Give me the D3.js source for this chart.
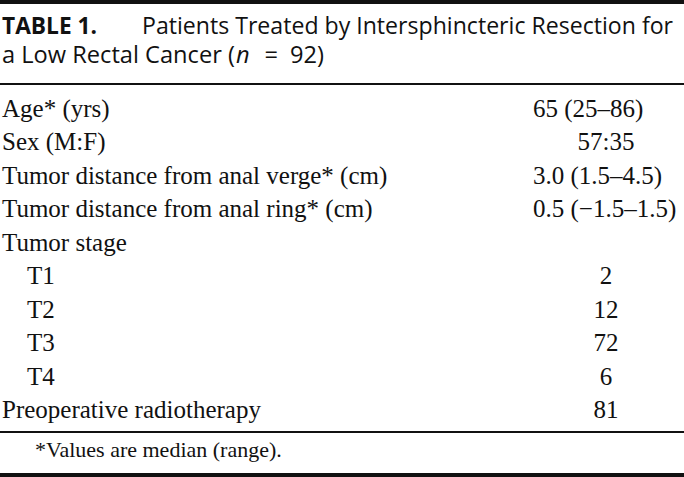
<!DOCTYPE html>
<html>
<head>
<meta charset="utf-8">
<script src="https://cdn.jsdelivr.net/npm/d3@7/dist/d3.min.js"></script>
<style>
  html, body { margin: 0; padding: 0; background: #fff; }
  svg { display: block; }
</style>
</head>
<body>
<div id="table"></div>
<script>
// table content
var titleTag = "TABLE 1.";
var titleLine1 = "Patients Treated by Intersphincteric Resection for";
var titleLine2 = ["a Low Rectal Cancer (", "n", "=", "92)"];

var rowLabels = [
	"Age* (yrs)",
	"Sex (M:F)",
	"Tumor distance from anal verge* (cm)",
	"Tumor distance from anal ring* (cm)",
	"Tumor stage",
	"T1",
	"T2",
	"T3",
	"T4",
	"Preoperative radiotherapy"
];
var rowValues = ["65 (25–86)", "57:35", "3.0 (1.5–4.5)", "0.5 (−1.5–1.5)", "", "2", "12", "72", "6", "81"];
var rowLevels = [0, 0, 0, 0, 0, 1, 1, 1, 1, 0];

var footnote = "*Values are median (range).";

var width = 684,
	height = 477;

var serif = "'Liberation Serif', 'Times New Roman', serif";
var sans = "'Open Sans', 'Noto Sans', sans-serif";

var svg = d3.select("#table")
	.append("svg")
	.attr("width", width)
	.attr("height", height);

// rules
var rules = [
	{ y: 0, h: 4 },
	{ y: 83, h: 2 },
	{ y: 431, h: 2 },
	{ y: 473, h: 4 }
];

svg.selectAll("rect.rule")
	.data(rules)
	.enter()
	.append("rect")
	.attr("class", "rule")
	.attr("x", 0)
	.attr("y", function (d) { return d.y; })
	.attr("width", width)
	.attr("height", function (d) { return d.h; })
	.attr("fill", "#111");

// title
var title = svg.append("g")
	.attr("font-family", sans)
	.attr("font-size", 20)
	.attr("fill", "#111");

var line2 = title.append("text")
	.attr("x", 2)
	.attr("y", 63);

// wide math spacing round the "=" sign
var gaps = [0, 1, 15, 12];
line2.selectAll("tspan")
	.data(titleLine2)
	.enter()
	.append("tspan")
	.attr("dx", function (d, i) { return gaps[i]; })
	.attr("font-style", function (d, i) { return i === 1 ? "italic" : null; })
	.text(function (d) { return d; });

// size the title font from the second line, as in the print
var firstPart = line2.select("tspan").node().getComputedTextLength();
title.attr("font-size", 20 * 233 / firstPart);

title.append("text")
	.attr("x", 2)
	.attr("y", 34)
	.attr("font-weight", "bold")
	.attr("textLength", 95)
	.attr("lengthAdjust", "spacingAndGlyphs")
	.text(titleTag);

title.append("text")
	.attr("x", 142)
	.attr("y", 34)
	.attr("textLength", 531)
	.attr("lengthAdjust", "spacingAndGlyphs")
	.text(titleLine1);

// body rows
var y = d3.scalePoint()
	.domain(d3.range(rowLabels.length))
	.range([117, 418]);

var indent = d3.scaleLinear()
	.domain([0, 1])
	.range([2, 27]);

var rows = svg.append("g")
	.attr("font-family", serif)
	.attr("font-size", 25)
	.attr("fill", "#111");

rows.selectAll("text.label")
	.data(rowLabels)
	.enter()
	.append("text")
	.attr("class", "label")
	.attr("x", function (d, i) { return indent(rowLevels[i]); })
	.attr("y", function (d, i) { return y(i); })
	.text(function (d) { return d; });

rows.selectAll("text.value")
	.data(rowValues)
	.enter()
	.append("text")
	.attr("class", "value")
	.attr("x", function (d) { return d.indexOf("(") >= 0 ? 533 : 606; })
	.attr("y", function (d, i) { return y(i); })
	.attr("text-anchor", function (d) { return d.indexOf("(") >= 0 ? "start" : "middle"; })
	.text(function (d) { return d; });

// footnote
svg.append("text")
	.attr("x", 35)
	.attr("y", 457)
	.attr("font-family", serif)
	.attr("font-size", 22)
	.attr("fill", "#111")
	.text(footnote);
</script>
</body>
</html>
